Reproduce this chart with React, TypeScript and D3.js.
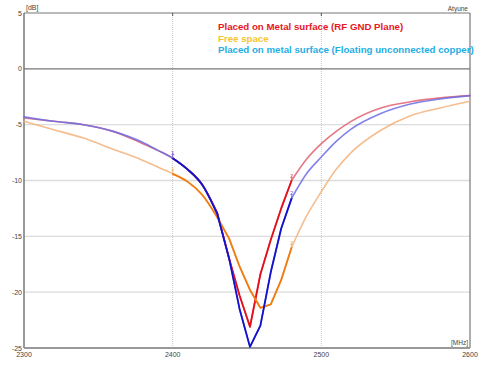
import React from 'react';
import * as d3 from 'd3';

// frequency points (MHz) shared by the three traces
const freq = [2300, 2320, 2340, 2360, 2380, 2390, 2400, 2410, 2420, 2430, 2438, 2445, 2452, 2459, 2466, 2473, 2480, 2490, 2500, 2510, 2520, 2540, 2560, 2580, 2600];

// return loss, dB
const metalGnd = [-4.4, -4.7, -5.0, -5.6, -6.7, -7.3, -8.0, -9.0, -10.4, -12.9, -17.0, -20.3, -23.1, -18.4, -15.3, -12.5, -10.0, -8.1, -6.7, -5.6, -4.7, -3.5, -2.95, -2.6, -2.4];
const freeSpace = [-4.7, -5.45, -6.2, -7.2, -8.2, -8.8, -9.4, -10.1, -11.3, -13.3, -15.2, -17.7, -19.8, -21.4, -21.1, -18.9, -16.0, -13.2, -11.0, -9.0, -7.5, -5.5, -4.2, -3.5, -2.9];
const metalFloat = [-4.3, -4.7, -5.0, -5.6, -6.6, -7.3, -8.0, -9.0, -10.4, -13.0, -17.0, -21.5, -24.9, -23.0, -18.2, -14.3, -11.6, -9.4, -7.9, -6.5, -5.4, -4.0, -3.15, -2.7, -2.4];

const legendLabels = [
  'Placed on Metal surface (RF GND Plane)',
  'Free space',
  'Placed on metal surface (Floating unconnected copper)',
];
const legendColors = ['#e8161e', '#f7c430', '#1eaee3'];

const xTicks = [2300, 2400, 2500, 2600];
const yTicks = [5, 0, -5, -10, -15, -20, -25];
const markerFreqs = [2400, 2480];
// the resonance dip is drawn as straight segments, the rest smoothed
const dipRange = [2430, 2480];

const W = 490;
const H = 370;
const margin = { top: 13, right: 20, bottom: 22, left: 24 };

const series = [
  { values: metalGnd, strong: '#e3101c', pale: '#e0606e' },
  { values: freeSpace, strong: '#ef7d12', pale: '#f3b27a' },
  { values: metalFloat, strong: '#1212cc', pale: '#6c6ce4' },
];

export default function App() {
  const x = d3.scaleLinear().domain([2300, 2600]).range([margin.left, W - margin.right]);
  const y = d3.scaleLinear().domain([-25, 5]).range([H - margin.bottom, margin.top]);

  const smooth = d3.line<[number, number]>().x(d => x(d[0])).y(d => y(d[1])).curve(d3.curveMonotoneX);
  const straight = d3.line<[number, number]>().x(d => x(d[0])).y(d => y(d[1]));

  const pathFor = (pts: [number, number][]) => {
    const left = pts.filter(p => p[0] <= dipRange[0]);
    const mid = pts.filter(p => p[0] >= dipRange[0] && p[0] <= dipRange[1]);
    const right = pts.filter(p => p[0] >= dipRange[1]);
    return [left.length > 1 ? smooth(left) : '', mid.length > 1 ? straight(mid) : '', right.length > 1 ? smooth(right) : ''].join('');
  };

  const font = 'Liberation Sans, Arial, sans-serif';

  return (
    <svg width={W} height={H} style={{ position: 'absolute', left: 0, top: 0, background: '#fff' }}>
      {/* grid */}
      {yTicks.filter(t => t < 0 && t > -25).map(t => (
        <line key={t} x1={x(2300)} x2={x(2600)} y1={y(t)} y2={y(t)} stroke="#dcdcdc" strokeWidth={1.3} />
      ))}
      {xTicks.filter(t => t > 2300 && t < 2600).map(t => (
        <line key={t} x1={x(t)} x2={x(t)} y1={y(5)} y2={y(-25)} stroke="#c8c8c8" strokeDasharray="1,1" />
      ))}
      <line x1={x(2300)} x2={x(2600)} y1={y(0)} y2={y(0)} stroke="#777" strokeWidth={1.2} />

      {/* frame */}
      <line x1={x(2300)} x2={x(2600)} y1={y(5)} y2={y(5)} stroke="#777" strokeWidth={1.2} />
      <line x1={x(2600)} x2={x(2600)} y1={y(5)} y2={y(-25)} stroke="#777" strokeWidth={1.2} />
      <line x1={x(2300)} x2={x(2300)} y1={y(5)} y2={y(-25)} stroke="#777" strokeWidth={1.5} />
      <line x1={x(2300)} x2={x(2600)} y1={y(-25)} y2={y(-25)} stroke="#999" strokeWidth={2} />
      {xTicks.filter(t => t > 2300 && t < 2600).map(t => (
        <line key={t} x1={x(t)} x2={x(t)} y1={y(5)} y2={y(5) + 3} stroke="#555" />
      ))}

      {/* axis labels */}
      {yTicks.map(t => (
        <text key={t} x={x(2300) - 2} y={y(t) + 2.5} textAnchor="end" fontSize={7} fill="#444" fontFamily={font}>{t}</text>
      ))}
      {xTicks.map(t => (
        <text key={t} x={x(t)} y={357} textAnchor="middle" fontSize={7} fill="#444" fontFamily={font}>{t}</text>
      ))}
      <text x={x(2300) + 2} y={10} fontSize={7} fill="#444" fontFamily={font}>[dB]</text>
      <text x={x(2600) - 2} y={11} textAnchor="end" fontSize={6.5} fill="#444" fontFamily={font}>Atyune</text>
      <text x={x(2600) - 2} y={y(-25) - 3} textAnchor="end" fontSize={6.5} fill="#444" fontFamily={font}>[MHz]</text>

      {/* traces: pale full curve, strong segment between markers */}
      {series.map((s, i) => {
        const pts = freq.map((f, k) => [f, s.values[k]] as [number, number]);
        const mid = pts.filter(p => p[0] >= markerFreqs[0] && p[0] <= markerFreqs[1]);
        return (
          <g key={i} strokeLinejoin="round" strokeLinecap="round">
            <path d={pathFor(pts)} fill="none" stroke={s.pale} strokeWidth={1.6} strokeOpacity={0.85} />
            <path d={pathFor(mid)} fill="none" stroke={s.strong} strokeWidth={1.8} />
          </g>
        );
      })}

      {/* markers */}
      {series.map((s, i) => markerFreqs.map((f, m) => {
        const v = s.values[freq.indexOf(f)];
        return (
          <g key={`${i}-${m}`}>
            <line x1={x(f)} x2={x(f)} y1={y(v)} y2={y(v) - 5} stroke={s.pale} strokeWidth={0.8} />
            <text x={x(f)} y={y(v) - 3} textAnchor="middle" fontSize={6} fill={s.pale} fontFamily={font}>{m + 1}</text>
          </g>
        );
      }))}

      {/* legend */}
      {legendLabels.map((l, i) => (
        <text key={l} x={218} y={30 + i * 11.5} fontSize={9.7} fontWeight="bold" fill={legendColors[i]} fontFamily={font}>{l}</text>
      ))}
    </svg>
  );
}
